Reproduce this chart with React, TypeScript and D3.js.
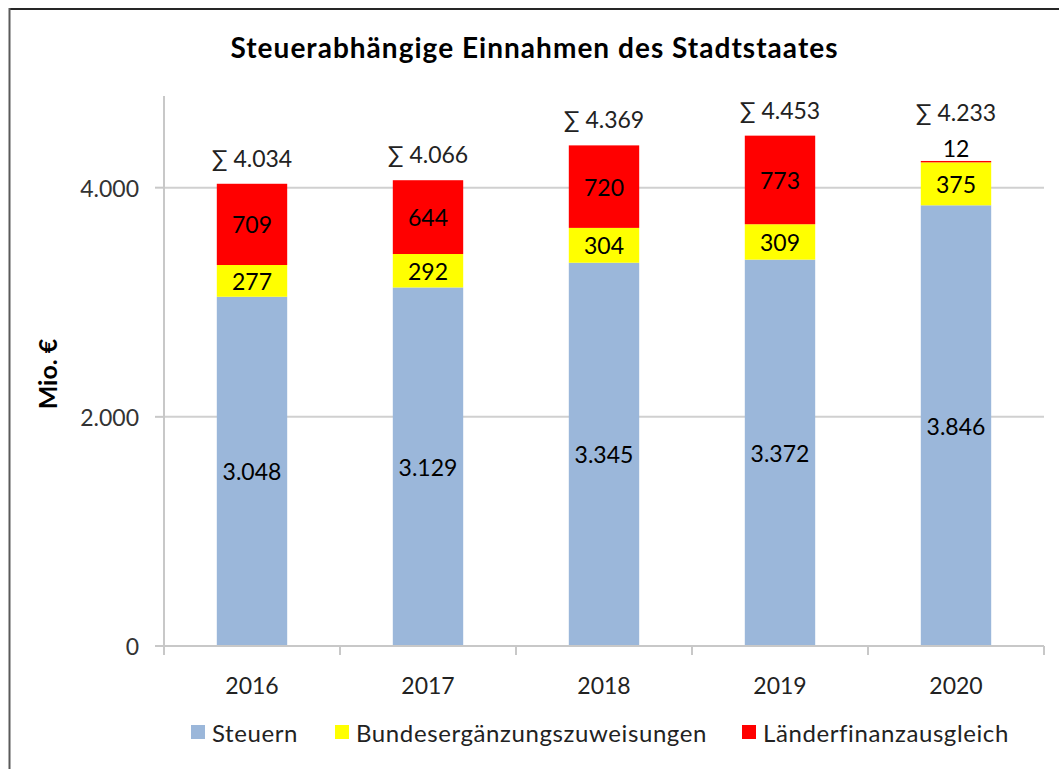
import React from "react";
import * as d3 from "d3";

const years = ["2016", "2017", "2018", "2019", "2020"];
const steuern = [3048, 3129, 3345, 3372, 3846];
const bez = [277, 292, 304, 309, 375];
const lfa = [709, 644, 720, 773, 12];
const totals = [4034, 4066, 4369, 4453, 4233];
const yTicks = [0, 2000, 4000];
const seriesNames = ["Steuern", "Bundesergänzungszuweisungen", "Länderfinanzausgleich"];
const seriesColors = ["#9BB7DA", "#FFFF00", "#FF0000"];

const W = 1059;
const H = 769;
const FONT = "Lato, 'Open Sans', sans-serif";

const de = d3.formatLocale({ decimal: ",", thousands: ".", grouping: [3], currency: ["", " €"] });
const fmt = de.format(",d");

export default function App() {
  const x = d3.scaleBand<string>().domain(years).range([164, 1044]).paddingInner(0.6).paddingOuter(0.3);
  const y = d3.scaleLinear().domain([0, 4800]).range([646, 96]);
  const rows = years.map((yr, i) => ({ year: yr, s0: steuern[i], s1: bez[i], s2: lfa[i] }));
  const stack = d3.stack<any>().keys(["s0", "s1", "s2"])(rows);
  const step = x.step();
  const boundaries = d3.range(years.length + 1).map((i) => 164 + i * step);

  const legendX = [191, 335, 742];

  return (
    <svg width={W} height={H} style={{ position: "absolute", left: 0, top: 0 }} fontFamily={FONT}>
      <rect x={0} y={0} width={W} height={H} fill="#fff" />
      <line x1={9} x2={W} y1={9} y2={9} stroke="#262626" strokeWidth={2} />
      <line x1={9.5} x2={9.5} y1={8} y2={H} stroke="#5a5a5a" strokeWidth={2} />
      <text
        x={534}
        y={47}
        textAnchor="middle"
        dominantBaseline="central"
        fontSize={28}
        fontWeight="bold"
        fill="#000"
        textLength={607}
        lengthAdjust="spacing"
      >
        Steuerabhängige Einnahmen des Stadtstaates
      </text>
      {/* gridlines */}
      {yTicks.filter((t) => t > 0).map((t) => (
        <line key={t} x1={164} x2={1044} y1={y(t)} y2={y(t)} stroke="#D0D0D0" strokeWidth={2} />
      ))}
      {/* y axis */}
      <line x1={164} x2={164} y1={y(4800)} y2={y(0)} stroke="#C8C8C8" strokeWidth={2} />
      {yTicks.map((t) => (
        <g key={t}>
          <line x1={155} x2={164} y1={y(t)} y2={y(t)} stroke="#C8C8C8" strokeWidth={2} />
          <text x={139} y={y(t)} textAnchor="end" dominantBaseline="central" fontSize={23} fill="#333">
            {fmt(t)}
          </text>
        </g>
      ))}
      <text
        transform={`translate(47,374) rotate(-90)`}
        textAnchor="middle"
        dominantBaseline="central"
        fontSize={25}
        fontWeight="bold"
        fill="#000"
      >
        Mio. €
      </text>
      {/* bars */}
      {stack.map((layer, li) => (
        <g key={li}>
          {layer.map((d, i) => (
            <rect
              key={i}
              x={x(years[i])!}
              y={y(d[1])}
              width={x.bandwidth()}
              height={y(d[0]) - y(d[1])}
              fill={seriesColors[li]}
            />
          ))}
        </g>
      ))}
      {/* x axis */}
      <line x1={164} x2={1044} y1={y(0)} y2={y(0)} stroke="#C8C8C8" strokeWidth={2} />
      {boundaries.map((b, i) => (
        <line key={i} x1={b} x2={b} y1={y(0)} y2={y(0) + 9} stroke="#C8C8C8" strokeWidth={2} />
      ))}
      {years.map((yr) => (
        <text key={yr} x={x(yr)! + x.bandwidth() / 2} y={685} textAnchor="middle" dominantBaseline="central" fontSize={23} fill="#222">
          {yr}
        </text>
      ))}
      {/* value labels */}
      {stack.map((layer, li) => (
        <g key={"l" + li}>
          {layer.map((d, i) => {
            const h = y(d[0]) - y(d[1]);
            const small = h < 20;
            const cy = small ? y(d[1]) - 13 : (y(d[0]) + y(d[1])) / 2;
            const v = d[1] - d[0];
            return (
              <text key={i} x={x(years[i])! + x.bandwidth() / 2} y={cy} textAnchor="middle" dominantBaseline="central" fontSize={23} fill="#000">
                {fmt(v)}
              </text>
            );
          })}
        </g>
      ))}
      {/* totals */}
      {years.map((yr, i) => {
        const top = y(steuern[i] + bez[i] + lfa[i]);
        const smallTop = y(steuern[i] + bez[i]) - top < 20;
        const cy = top - 26 - (smallTop ? 23 : 0);
        return (
          <text key={yr} x={x(yr)! + x.bandwidth() / 2} y={cy} textAnchor="middle" dominantBaseline="central" fontSize={23} fill="#222">
            {"∑ " + fmt(totals[i])}
          </text>
        );
      })}
      {/* legend */}
      {seriesNames.map((n, i) => (
        <g key={n}>
          <rect x={legendX[i]} y={725} width={14} height={14} fill={seriesColors[i]} />
          <text x={legendX[i] + 21} y={732} dominantBaseline="central" fontSize={24} letterSpacing={0.6} fill="#222">
            {n}
          </text>
        </g>
      ))}
    </svg>
  );
}
